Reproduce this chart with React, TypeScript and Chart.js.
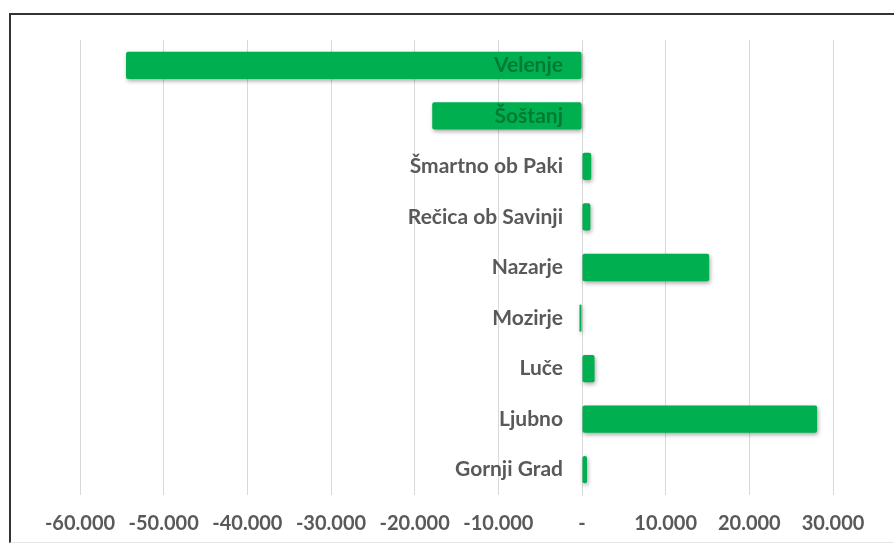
import React, { useEffect, useRef } from "react";
import { Chart, registerables } from "chart.js";

Chart.register(...registerables);

const categories = [
  "Velenje",
  "Šoštanj",
  "Šmartno ob Paki",
  "Rečica ob Savinji",
  "Nazarje",
  "Mozirje",
  "Luče",
  "Ljubno",
  "Gornji Grad",
];

const values = [-54500, -17900, 1100, 1000, 15200, -300, 1500, 28100, 600];

const xMin = -60000;
const xMax = 30000;
const xStep = 10000;

const labelFont = "bold 21px Lato";
const labelGap = 19;

function formatThousands(v: number): string {
  if (v === 0) return "-";
  const neg = v < 0;
  const s = Math.abs(Math.round(v)).toString();
  const withDots = s.replace(/\B(?=(\d{3})+(?!\d))/g, ".");
  return (neg ? "-" : "") + withDots;
}

const barDecorPlugin = {
  id: "barDecor",
  beforeDatasetsDraw(chart: any) {
    const ctx = chart.ctx;
    ctx.save();
    ctx.shadowColor = "rgba(0,0,0,0.35)";
    ctx.shadowBlur = 4;
    ctx.shadowOffsetX = 1;
    ctx.shadowOffsetY = 2;
  },
  afterDatasetsDraw(chart: any) {
    const ctx = chart.ctx;
    ctx.restore();
    const xs = chart.scales.x;
    const ys = chart.scales.y;
    const x0 = xs.getPixelForValue(0);
    ctx.save();
    ctx.font = labelFont;
    ctx.textAlign = "right";
    ctx.textBaseline = "middle";
    categories.forEach((name, i) => {
      const y = ys.getPixelForValue(i);
      const tx = x0 - labelGap;
      const w = ctx.measureText(name).width;
      const barLeft = xs.getPixelForValue(Math.min(0, values[i]));
      const covered = barLeft < tx - w;
      ctx.fillStyle = covered ? "rgba(0,45,15,0.42)" : "#595959";
      ctx.fillText(name, tx, y);
    });
    ctx.restore();
  },
};

export default function App() {
  const canvasRef = useRef<HTMLCanvasElement | null>(null);

  useEffect(() => {
    if (!canvasRef.current) return;
    const chart = new Chart(canvasRef.current, {
      type: "bar",
      data: {
        labels: categories,
        datasets: [
          {
            data: values,
            backgroundColor: "#00B050",
            borderRadius: 2,
            borderSkipped: false,
            barPercentage: 0.54,
            categoryPercentage: 1,
          },
        ],
      },
      options: {
        indexAxis: "y",
        animation: false,
        responsive: false,
        maintainAspectRatio: false,
        layout: { padding: { left: 80, right: 61, top: 40, bottom: 0 } },
        plugins: {
          legend: { display: false },
          tooltip: { enabled: false },
        },
        scales: {
          x: {
            type: "linear",
            min: xMin,
            max: xMax,
            grid: { color: "#d9d9d9", lineWidth: 1, drawTicks: false },
            border: { display: false },
            afterFit: (scale: any) => {
              scale.height = 50;
            },
            ticks: {
              stepSize: xStep,
              padding: 17,
              color: "#595959",
              font: { family: "Lato", size: 20, weight: "bold" },
              callback: (v: any) => formatThousands(Number(v)),
            },
          },
          y: {
            position: { x: 0 } as any,
            grid: { display: false, drawTicks: false },
            border: { display: true, color: "#d9d9d9", width: 1 },
            ticks: { display: false },
          },
        },
      },
      plugins: [barDecorPlugin],
    });
    return () => chart.destroy();
  }, []);

  return (
    <div
      style={{
        position: "fixed",
        left: 0,
        top: 0,
        width: 894,
        height: 545,
        background: "#ffffff",
      }}
    >
      <div
        style={{
          position: "absolute",
          left: 9,
          top: 13,
          right: 0,
          bottom: 2,
          borderTop: "2px solid #333333",
          borderLeft: "2px solid #333333",
          borderBottom: "1px solid #e6e6e6",
        }}
      />
      <canvas
        ref={canvasRef}
        width={894}
        height={545}
        style={{ position: "absolute", left: 0, top: 0, width: 894, height: 545 }}
      />
    </div>
  );
}
